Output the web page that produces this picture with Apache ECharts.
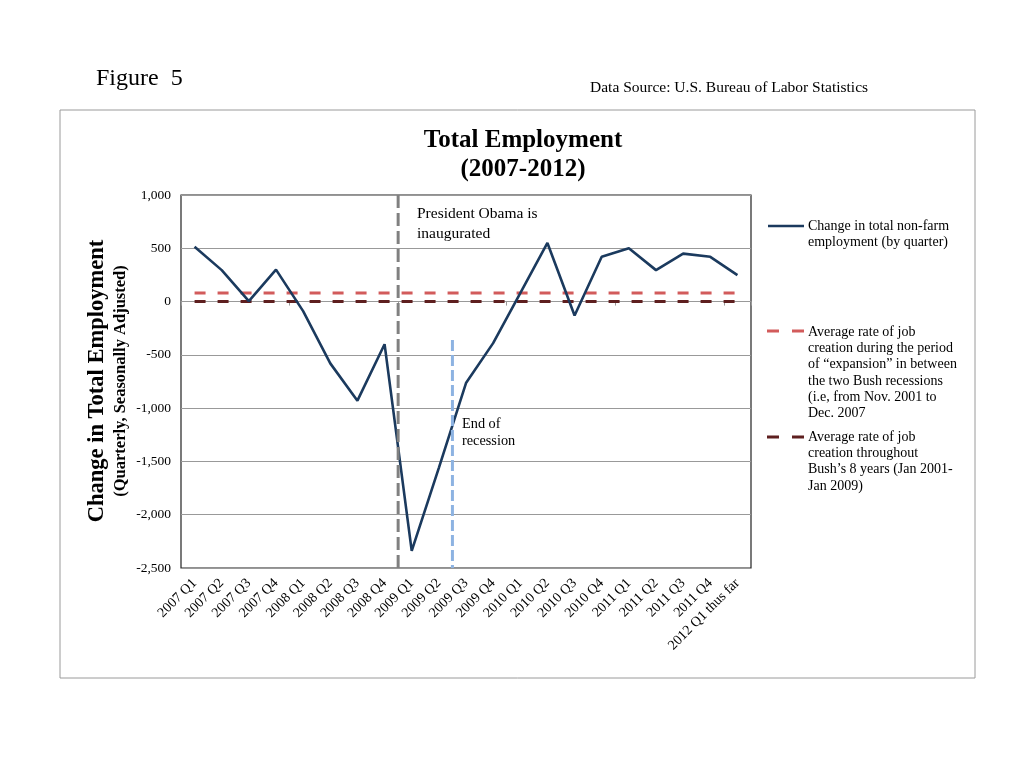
<!DOCTYPE html>
<html>
<head>
<meta charset="utf-8">
<script src="https://cdn.jsdelivr.net/npm/echarts@6/dist/echarts.min.js"></script>
<style>html,body{margin:0;padding:0;background:#fff;}#c{width:1024px;height:768px;}</style>
</head>
<body>
<div id="c"></div>
<script>
const categories = ['2007 Q1','2007 Q2','2007 Q3','2007 Q4','2008 Q1','2008 Q2','2008 Q3','2008 Q4',
  '2009 Q1','2009 Q2','2009 Q3','2009 Q4','2010 Q1','2010 Q2','2010 Q3','2010 Q4',
  '2011 Q1','2011 Q2','2011 Q3','2011 Q4','2012 Q1 thus far'];
const totalChange = [515, 295, 5, 300, -90, -580, -930, -400, -2340, -1560, -765, -390, 80, 550, -130, 420, 500, 295, 450, 420, 248];
const expansionAvg = 80;
const bushAvg = 0;
const obamaIndex = 7.5;        // boundary between 2008 Q4 and 2009 Q1
const recessionEndIndex = 9.5; // boundary between 2009 Q2 and 2009 Q3
const recessionLineTop = -360;
const yTicks = [-2500, -2000, -1500, -1000, -500, 0, 500, 1000];

const serif = '"Liberation Serif", "DejaVu Serif", serif';
const chart = echarts.init(document.getElementById('c'));
const nCat = categories.length;
const yMin = yTicks[0], yMax = yTicks[yTicks.length - 1];

chart.setOption({
  animation: false,
  backgroundColor: '#fff',
  textStyle: { fontFamily: serif },
  title: {
    text: 'Total Employment\n(2007-2012)',
    left: 518, top: 121, textAlign: 'center',
    textStyle: { fontFamily: serif, fontSize: 25, fontWeight: 'bold', color: '#000', lineHeight: 29 }
  },
  grid: { left: 181, right: 273, top: 195, bottom: 200, show: true, borderColor: '#222', borderWidth: 1.2, backgroundColor: 'transparent' },
  xAxis: [
    {
      type: 'category', data: categories, boundaryGap: true, position: 'bottom',
      axisLine: { show: false, onZero: false }, axisTick: { show: false },
      axisLabel: { rotate: 45, fontFamily: serif, fontSize: 14, color: '#000', margin: 13, interval: 0 },
      splitLine: { show: false }
    },
    {
      type: 'category', data: categories, boundaryGap: true, position: 'bottom',
      axisLine: { show: true, onZero: true, lineStyle: { color: '#999', width: 1 } },
      axisTick: { show: true, length: 4, lineStyle: { color: '#999' } },
      axisLabel: { show: false }, splitLine: { show: false }
    },
    {
      type: 'value', min: -0.5, max: nCat - 0.5, show: false
    }
  ],
  yAxis: {
    type: 'value', min: yMin, max: yMax, interval: 500,
    axisLine: { show: false, onZero: false },
    axisTick: { show: false },
    axisLabel: {
      fontFamily: serif, fontSize: 13.5, color: '#000', margin: 10,
      formatter: v => v.toLocaleString('en-US')
    },
    splitLine: { show: true, lineStyle: { color: '#999', width: 1 } }
  },
  series: [
    {
      name: 'Change in total non-farm employment (by quarter)', type: 'line', xAxisIndex: 0,
      data: totalChange, symbol: 'none', z: 5,
      lineStyle: { color: '#1B3A5E', width: 2.6 }
    },
    {
      name: 'expansion avg', type: 'line', xAxisIndex: 0,
      data: categories.map(() => expansionAvg), symbol: 'none', z: 3,
      lineStyle: { color: '#D25B5B', width: 3, type: [11, 12] }
    },
    {
      name: 'bush avg', type: 'line', xAxisIndex: 0,
      data: categories.map(() => bushAvg), symbol: 'none', z: 4,
      lineStyle: { color: '#5E1F1F', width: 3, type: [11, 12] }
    },
    {
      name: 'obama', type: 'line', xAxisIndex: 2,
      data: [[obamaIndex, yMax], [obamaIndex, yMin]], symbol: 'none', z: 6,
      lineStyle: { color: '#808080', width: 3, type: [13, 5] }
    },
    {
      name: 'recession end', type: 'line', xAxisIndex: 2,
      data: [[recessionEndIndex, recessionLineTop], [recessionEndIndex, yMin]], symbol: 'none', z: 6,
      lineStyle: { color: '#8DB3E2', width: 3, type: [11, 4] }
    }
  ],
  graphic: [
    { type: 'rect', shape: { x: 60, y: 110, width: 915, height: 568 }, style: { fill: 'none', stroke: '#9a9a9a', lineWidth: 1 }, z: -10 },
    { type: 'text', left: 96, top: 67, style: { text: 'Figure  5', font: '24px ' + serif, fill: '#000' } },
    { type: 'text', left: 590, top: 80, style: { text: 'Data Source: U.S. Bureau of Labor Statistics', font: '15.5px ' + serif, fill: '#000' } },
    { type: 'text', x: 97, y: 381, rotation: Math.PI / 2, style: { text: 'Change in Total Employment', font: 'bold 22.5px ' + serif, fill: '#000', align: 'center', verticalAlign: 'middle' } },
    { type: 'text', x: 121, y: 381, rotation: Math.PI / 2, style: { text: '(Quarterly, Seasonally Adjusted)', font: 'bold 16.5px ' + serif, fill: '#000', align: 'center', verticalAlign: 'middle' } },
    { type: 'text', left: 417, top: 204, style: { text: 'President Obama is\ninaugurated', font: '15.5px ' + serif, fill: '#000', lineHeight: 20 } },
    { type: 'text', left: 462, top: 416, style: { text: 'End of\nrecession', font: '14.3px ' + serif, fill: '#000', lineHeight: 17 } },
    // legend
    { type: 'line', shape: { x1: 768, y1: 226, x2: 804, y2: 226 }, style: { stroke: '#1B3A5E', lineWidth: 2.6 } },
    { type: 'text', left: 808, top: 218, style: { text: 'Change in total non-farm\nemployment (by quarter)', font: '14px ' + serif, fill: '#000', lineHeight: 16.3 } },
    { type: 'line', shape: { x1: 767, y1: 331, x2: 804, y2: 331 }, style: { stroke: '#D25B5B', lineWidth: 3, lineDash: [12, 13] } },
    { type: 'text', left: 808, top: 324, style: { text: 'Average rate of job\ncreation during the period\nof \u201cexpansion\u201d in between\nthe two Bush recessions\n(i.e, from Nov. 2001 to\nDec. 2007', font: '14px ' + serif, fill: '#000', lineHeight: 16.3 } },
    { type: 'line', shape: { x1: 767, y1: 437, x2: 804, y2: 437 }, style: { stroke: '#5E1F1F', lineWidth: 3, lineDash: [12, 13] } },
    { type: 'text', left: 808, top: 429, style: { text: 'Average rate of job\ncreation throughout\nBush\u2019s 8 years (Jan 2001-\nJan 2009)', font: '14px ' + serif, fill: '#000', lineHeight: 16.3 } }
  ]
});
</script>
</body>
</html>
